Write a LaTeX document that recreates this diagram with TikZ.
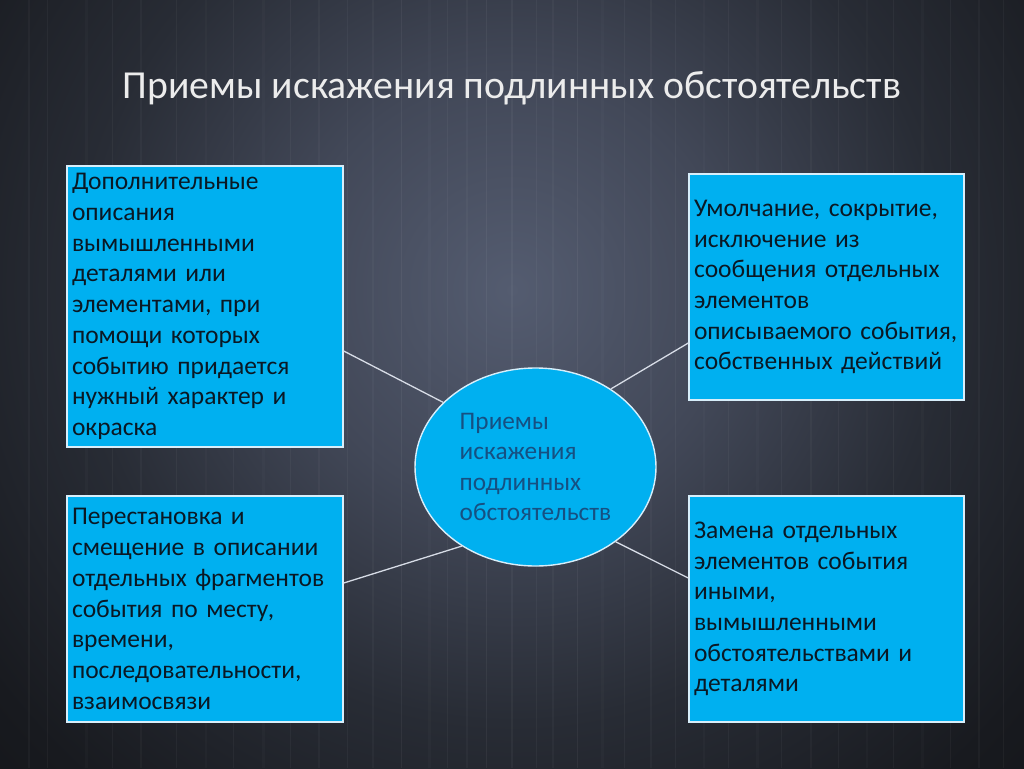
\documentclass[tikz,border=0pt]{standalone}
\usepackage{fontspec}
\setmainfont{Carlito}
\usetikzlibrary{shapes.geometric}
\definecolor{boxfill}{RGB}{0,176,240}
\definecolor{boxline}{RGB}{215,238,250}
\definecolor{boxtext}{RGB}{10,24,36}
\definecolor{elltext}{RGB}{22,80,130}
\definecolor{conn}{RGB}{215,220,230}
\definecolor{titletext}{RGB}{236,236,236}
\definecolor{bgA}{RGB}{84,92,112}
\definecolor{bgB}{RGB}{66,72,88}
\definecolor{bgC}{RGB}{40,44,53}
\definecolor{bgD}{RGB}{24,26,31}
\definecolor{bgE}{RGB}{15,16,19}
\definecolor{bgF}{RGB}{11,12,14}
\pgfdeclareradialshading{bgshade}{\pgfpoint{0bp}{0bp}}{color(0bp)=(bgA); color(9bp)=(bgB); color(18bp)=(bgC); color(27bp)=(bgD); color(37bp)=(bgE); color(50bp)=(bgF)}
\begin{document}
\begin{tikzpicture}[x=1pt,y=-1pt,
  box/.style={draw=boxline, line width=1.4pt, fill=boxfill, rectangle,
    inner xsep=5pt, inner ysep=0pt, align=left, text=boxtext,
    font=\fontsize{25.5}{30.7}\selectfont},
  hub/.style={draw=boxline, line width=1.4pt, fill=boxfill, ellipse,
    inner sep=0pt, minimum width=241pt, minimum height=198pt, align=left,
    text=elltext, font=\fontsize{25.3}{30.4}\selectfont},
  link/.style={draw=conn, line width=1.3pt},
  titlestyle/.style={text=titletext, font=\fontsize{39.7}{44}\selectfont, inner sep=0pt}
]
\useasboundingbox (0,0) rectangle (1024,768);
\fill[bgF] (0,0) rectangle (1024,768);
\begin{scope}
  \clip (0,0) rectangle (1024,768);
  \shade[shading=bgshade] (-88,-310) rectangle (1112,890);
  \foreach \x/\w/\o in {28/2/.03, 47/1/.04, 85/3/.02, 112/1/.04, 140/2/.03, 176/1/.04, 205/2/.02, 233/1/.04, 262/3/.02, 290/1/.04, 318/2/.03, 347/1/.04, 372/2/.03, 401/1/.05, 428/3/.02, 447/1/.04, 466/2/.03, 486/1/.05, 511/2/.04, 536/1/.04, 552/2/.03, 577/1/.05, 601/3/.02, 624/1/.04, 650/2/.03, 675/1/.04, 703/2/.02, 728/1/.04, 756/3/.02, 781/1/.04, 810/2/.03, 838/1/.04, 866/2/.02, 893/1/.04, 921/3/.02, 950/1/.04, 978/2/.03, 1003/1/.04}
    \fill[white, opacity=\o] (\x,0) rectangle (\x+\w,768);
\end{scope}

\node[titlestyle] (title) at (512,88) {Приемы искажения подлинных обстоятельств};

\node[box, minimum width=276pt, minimum height=281pt, text width=266pt] (tl) at (205,306.5)
  {Дополнительные\\описания\\вымышленными\\деталями или\\элементами, при\\помощи которых\\событию придается\\нужный характер и\\окраска};
\node[box, minimum width=275pt, minimum height=226pt, text width=265pt] (tr) at (826.5,287)
  {Умолчание, сокрытие,\\исключение из\\сообщения отдельных\\элементов\\описываемого события,\\собственных действий};
\node[box, minimum width=276pt, minimum height=226pt, text width=266pt] (bl) at (205,609)
  {Перестановка и\\смещение в описании\\отдельных фрагментов\\события по месту,\\времени,\\последовательности,\\взаимосвязи};
\node[box, minimum width=275pt, minimum height=226pt, text width=265pt] (br) at (826.5,609)
  {Замена отдельных\\элементов события\\иными,\\вымышленными\\обстоятельствами и\\деталями};

\node[hub] (c) at (535.5,467) {Приемы\\искажения\\подлинных\\обстоятельств};

\draw[link] ([yshift=-44.5pt]tl.east) -- (c.145);
\draw[link] ([yshift=-56pt]tr.west) -- (c.46);
\draw[link] ([yshift=26pt]bl.east) -- (c.227);
\draw[link] ([yshift=31pt]br.west) -- (c.317);
\end{tikzpicture}
\end{document}
